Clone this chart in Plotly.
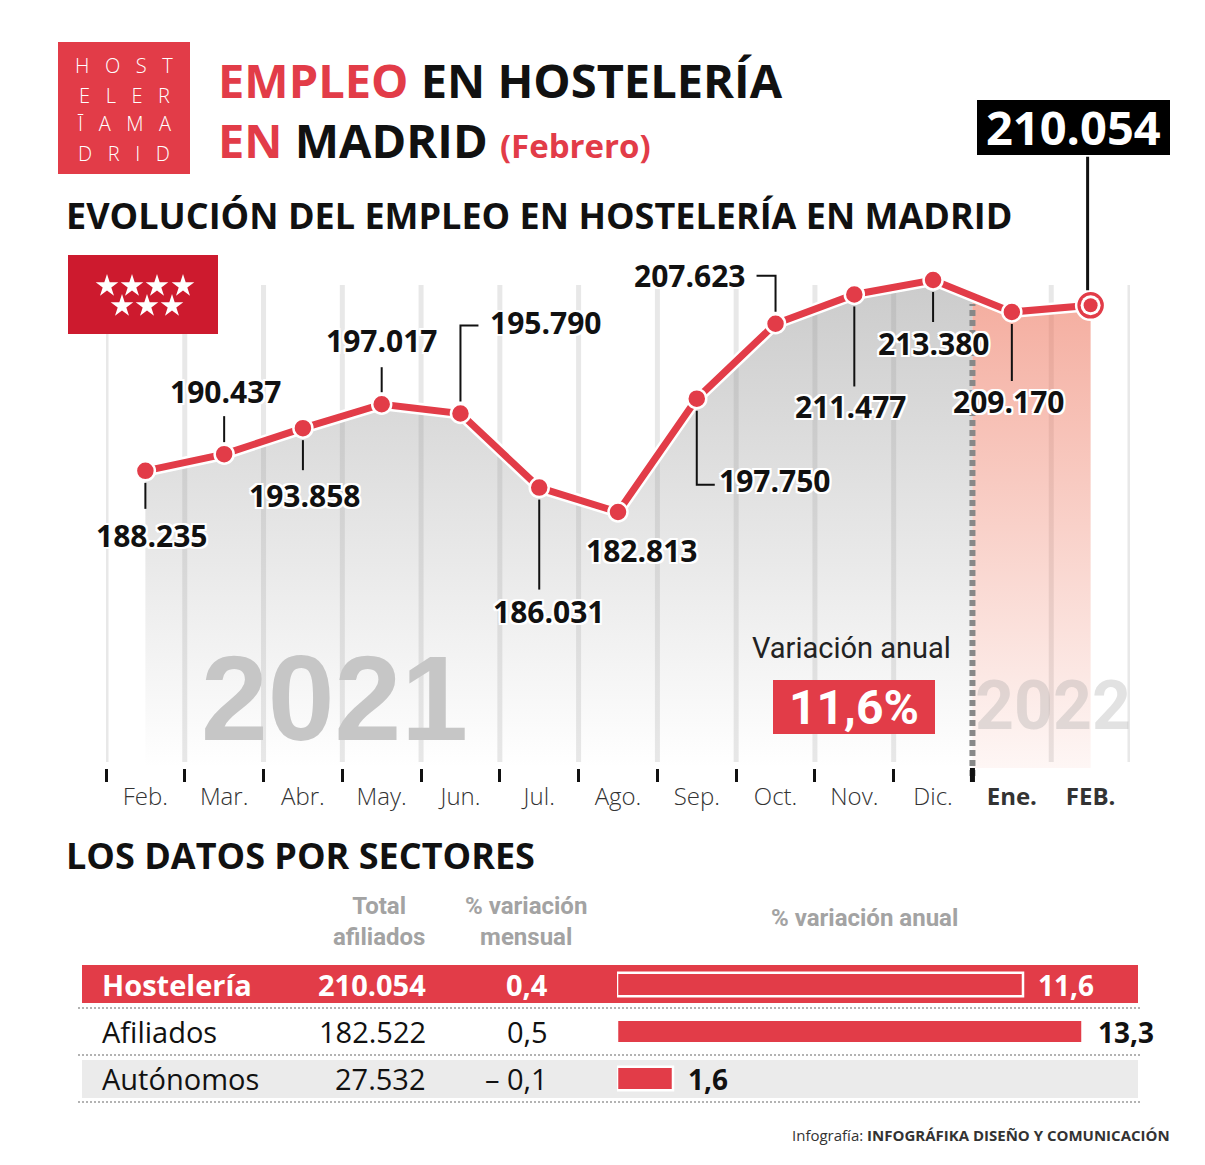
import plotly.graph_objects as go

# ---------------- data ----------------
months = ["Feb.", "Mar.", "Abr.", "May.", "Jun.", "Jul.", "Ago.", "Sep.", "Oct.", "Nov.", "Dic.", "Ene.", "FEB."]
empleo = [188235, 190437, 193858, 197017, 195790, 186031, 182813, 197750, 207623, 211477, 213380, 209170, 210054]
years = ["2021", "2022"]
variacion_anual_total = 11.6

sectores = ["Hostelería", "Afiliados", "Autónomos"]
total_afiliados = [210054, 182522, 27532]
var_mensual = [0.4, 0.5, -0.1]
var_anual = [11.6, 13.3, 1.6]

# ---------------- helpers ----------------
W, H = 1205, 1165
OFF = 8                      # page body margin
FW, FH = W - 2 * OFF, H - 2 * OFF
RED = "#e23c48"
INK = "#111111"
FONT = "Open Sans"
COND = "Roboto"


def px(x):
    return (x - OFF) / FW


def py(y):
    return 1 - (y - OFF) / FH


def es_int(v):
    return f"{v:,}".replace(",", ".")


def es_dec(v):
    s = f"{abs(v):.1f}".replace(".", ",")
    return ("– " + s) if v < 0 else s


annotations = []
shapes = []


def ann(text, x, y, size, color=INK, family=FONT, weight=400, xanchor="center", yanchor="middle", **kw):
    annotations.append(dict(text=text, x=px(x), y=py(y), xref="paper", yref="paper", showarrow=False,
                            xanchor=xanchor, yanchor=yanchor,
                            font=dict(family=family, size=size, color=color, weight=weight), **kw))


def rect(x0, y0, x1, y1, color, layer="below", line=None):
    shapes.append(dict(type="rect", xref="paper", yref="paper", x0=px(x0), x1=px(x1), y0=py(y1), y1=py(y0),
                       fillcolor=color, line=line or dict(width=0), layer=layer))


xi = list(range(len(months)))
split = 10.5
mid_val = (empleo[10] + empleo[11]) / 2
Y_RANGE = [149080, 215360]

fig = go.Figure()

# gradient areas
fig.add_trace(go.Scatter(
    x=xi[:11] + [split], y=empleo[:11] + [mid_val], mode="none", fill="tozeroy",
    fillgradient=dict(type="vertical", start=Y_RANGE[0], stop=max(empleo),
                      colorscale=[[0, "rgba(140,140,140,0)"], [1, "rgba(140,140,140,0.45)"]]),
    hoverinfo="skip", showlegend=False))
fig.add_trace(go.Scatter(
    x=[split] + xi[11:], y=[mid_val] + empleo[11:], mode="none", fill="tozeroy",
    fillgradient=dict(type="vertical", start=Y_RANGE[0], stop=max(empleo),
                      colorscale=[[0, "rgba(236,110,85,0.06)"], [1, "rgba(236,110,85,0.58)"]]),
    hoverinfo="skip", showlegend=False))

# line with white halo
fig.add_trace(go.Scatter(x=xi, y=empleo, mode="lines", line=dict(color="white", width=12),
                         hoverinfo="skip", showlegend=False))
fig.add_trace(go.Scatter(x=xi, y=empleo, mode="lines+markers", line=dict(color=RED, width=7),
                         marker=dict(size=19, color=RED, line=dict(color="white", width=2.5)),
                         showlegend=False))
# highlighted last point
fig.add_trace(go.Scatter(x=xi[-1:], y=empleo[-1:], mode="markers",
                         marker=dict(size=29, color=RED, line=dict(color="white", width=2.5)), showlegend=False))
fig.add_trace(go.Scatter(x=xi[-1:], y=empleo[-1:], mode="markers",
                         marker=dict(size=20, color="white"), showlegend=False))
fig.add_trace(go.Scatter(x=xi[-1:], y=empleo[-1:], mode="markers",
                         marker=dict(size=14, color=RED), showlegend=False))

# sector bars
fig.add_trace(go.Bar(x=var_anual, y=list(range(len(sectores))), orientation="h", width=0.5,
                     marker=dict(color=RED, line=dict(color="white", width=2.5)),
                     xaxis="x3", yaxis="y3", showlegend=False, hoverinfo="skip"))

# Madrid flag stars (decoration, drawn in the flag's own little frame)
fig.add_trace(go.Scatter(x=[39, 64, 89, 115, 54, 79, 104], y=[31, 31, 31, 31, 51, 51, 51],
                         mode="markers", marker=dict(symbol="star", size=17, color="white"),
                         xaxis="x4", yaxis="y4", hoverinfo="skip", showlegend=False))

# ---------------- chart decorations ----------------
for k in range(len(months) + 1):
    g = k - 0.5
    if g == split:
        continue
    shapes.append(dict(type="line", xref="x", yref="paper", x0=g, x1=g, y0=py(762), y1=py(285),
                       line=dict(color="#e8e8e8", width=5), layer="below"))

rect(68, 255, 218, 334, "#cd1a2e")

# year separator
shapes.append(dict(type="line", xref="x", yref="paper", x0=split, x1=split, y0=py(776), y1=py(304),
                   line=dict(color="#888888", width=6, dash="6px,4px"), layer="above"))
shapes.append(dict(type="line", xref="x", yref="paper", x0=split, x1=split, y0=py(782), y1=py(768),
                   line=dict(color="#111", width=5), layer="above"))

# value labels + leaders
label_pos = [(6, -65), (1, 63), (2, -67), (0, 64), (85, 91), (9, -124), (23, -38),
             (78, -82), (-86, 48), (-4, -112), (0, -63), (-3, -90)]
leader_path = {0: "M0,-12 L0,-38", 1: "M0,12 L0,38", 2: "M0,-12 L0,-42", 3: "M0,12 L0,37",
               4: "M0,12 L0,88 L18,88", 5: "M0,-12 L0,-102", 7: "M0,-12 L0,-86 L18,-86",
               8: "M0,12 L0,48 L-19,48", 9: "M0,-12 L0,-92", 10: "M0,-12 L0,-42", 11: "M0,-12 L0,-69"}
halo = ", ".join(f"{a}px {b}px 0 #fff" for a, b in
                 [(2, 0), (-2, 0), (0, 2), (0, -2), (2, 2), (-2, -2), (2, -2), (-2, 2)])
for i, (dx, dy) in enumerate(label_pos):
    annotations.append(dict(text=es_int(empleo[i]), x=i, y=empleo[i], xref="x", yref="y", showarrow=False,
                            xshift=dx, yshift=dy,
                            font=dict(family=FONT, size=30, weight=700, color=INK, shadow=halo)))
    if i in leader_path:
        shapes.append(dict(type="path", xref="x", yref="y", xsizemode="pixel", ysizemode="pixel",
                           xanchor=i, yanchor=empleo[i], path=leader_path[i],
                           line=dict(color=INK, width=2), layer="above"))

# last value highlighted box with leader
annotations.append(dict(text="", x=xi[-1], y=empleo[-1], xref="x", yref="y", showarrow=True,
                        ax=0, ay=-150, arrowhead=0, arrowwidth=3, arrowcolor=INK, standoff=15, xshift=-3))
rect(977, 100, 1170, 155, "#000", layer="above")
ann(es_int(empleo[-1]), 1073, 127, 47, color="white", weight=700)

# watermarks
ann(years[0], 334, 698, 120, color="#c6c6c6", family="Liberation Sans", weight=700)
ann(years[1], 1053, 706, 68, color="rgba(160,160,160,0.30)", family=COND, weight=700)

# variation box
ann("Variación anual", 851, 648, 29, color="#222", family=COND)
rect(773, 680, 935, 734, RED, layer="above")
ann(es_dec(variacion_anual_total) + "%", 854, 707, 48, color="white", family=COND, weight=700)

# ---------------- header ----------------
rect(58, 42, 190, 174, RED)
logo_rows = ["HOST", "ELER", "ĪAMA", "DRID"]
for r, word in enumerate(logo_rows):
    ann("   ".join(word), 124, 66 + r * 29, 20, color="white", weight=300)

ann(f"<span style='color:{RED}'>EMPLEO</span> EN HOSTELERÍA", 216, 80, 47, weight=700, xanchor="left")
ann(f"<span style='color:{RED}'>EN</span> MADRID <span style='color:{RED};font-size:33px'>(Febrero)</span>",
    216, 140, 47, weight=700, xanchor="left")
ann("EVOLUCIÓN DEL EMPLEO EN HOSTELERÍA EN MADRID", 64, 215, 36, weight=700, xanchor="left")

# ---------------- table ----------------
ann("LOS DATOS POR SECTORES", 64, 855, 36, weight=700, xanchor="left")
GRAY = "#a3a3a3"
ann("Total<br>afiliados", 379, 921, 24, color=GRAY, family=COND, weight=700)
ann("% variación<br>mensual", 526, 921, 24, color=GRAY, family=COND, weight=700)
ann("% variación anual", 864, 918, 24, color=GRAY, family=COND, weight=700)

rect(82, 965, 1138, 1003, RED)
rect(82, 1060, 1138, 1098, "#ebebeb")
for yy in [1008, 1055, 1102]:
    shapes.append(dict(type="line", xref="paper", yref="paper", x0=px(78), x1=px(1140), y0=py(yy), y1=py(yy),
                       line=dict(color="#9a9a9a", width=1.5, dash="2px,2px"), layer="below"))

row_y = [984, 1031, 1078]
for r, name in enumerate(sectores):
    first = r == 0
    col = "white" if first else INK
    wt = 700 if first else 400
    ann(name, 100, row_y[r], 29, color=col, weight=wt, xanchor="left")
    ann(es_int(total_afiliados[r]), 428, row_y[r], 29, color=col, weight=wt, xanchor="right")
    ann(es_dec(var_mensual[r]), 550, row_y[r], 29, color=col, weight=wt, xanchor="right")
    annotations.append(dict(text=es_dec(var_anual[r]), x=var_anual[r], y=r, xref="x3", yref="y3",
                            showarrow=False, xanchor="left", xshift=13,
                            font=dict(family=FONT, size=28, weight=700, color=col)))

ann("Infografía: <b>INFOGRÁFIKA DISEÑO Y COMUNICACIÓN</b>", 1172, 1135, 15, color="#333", xanchor="right")

# ---------------- layout ----------------
tick_text = [f"<b>{m}</b>" if k >= 11 else m for k, m in enumerate(months)]
fig.update_layout(
    width=FW, height=FH, autosize=False,
    margin=dict(l=0, r=0, t=0, b=0),
    paper_bgcolor="white", plot_bgcolor="rgba(0,0,0,0)",
    showlegend=False,
    xaxis=dict(domain=[px(106), px(1130)], range=[-0.5, 12.5], anchor="y",
               tickmode="array", tickvals=xi, ticktext=tick_text, ticks="",
               tickfont=dict(family=FONT, size=24, color="#333", weight=300),
               ticklabelstandoff=12, showgrid=False, zeroline=False, showline=False,
               minor=dict(tickmode="array", tickvals=[k - 0.5 for k in range(12)], ticks="outside",
                          ticklen=13, tickwidth=2.5, tickcolor=INK, showgrid=False),
               fixedrange=True),
    yaxis=dict(domain=[py(768), py(265)], range=Y_RANGE, visible=False, fixedrange=True),
    xaxis3=dict(domain=[px(617), px(1138)], range=[0, 521 / 35], anchor="y3", visible=False),
    yaxis3=dict(domain=[py(1102), py(961)], range=[2.5, -0.5], anchor="x3", visible=False),
    xaxis4=dict(domain=[px(68), px(218)], range=[0, 150], anchor="y4", visible=False, fixedrange=True),
    yaxis4=dict(domain=[py(334), py(255)], range=[79, 0], anchor="x4", visible=False, fixedrange=True),
    shapes=shapes, annotations=annotations,
)

fig.write_html("out.html")
